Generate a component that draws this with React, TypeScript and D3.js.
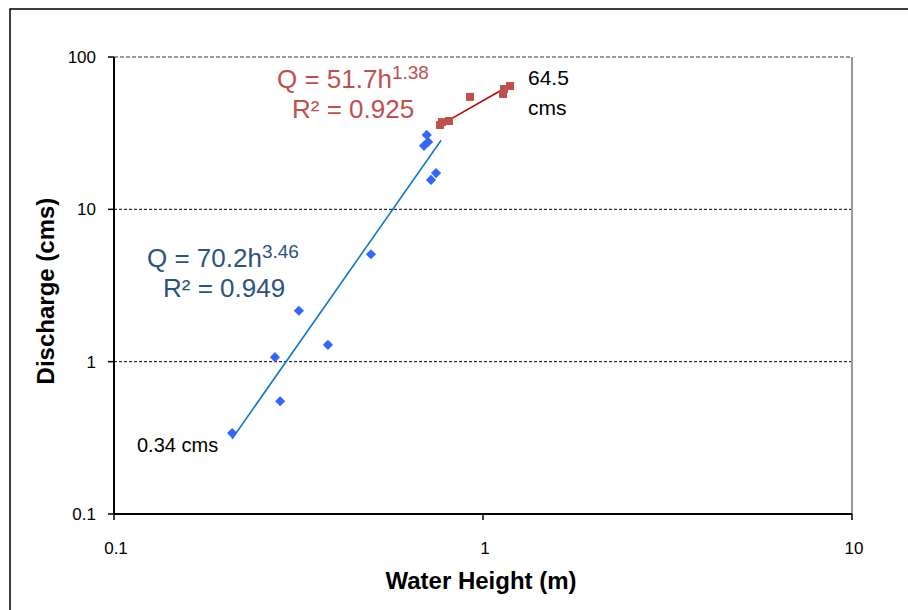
import { scaleLog, line } from 'd3';

const lowHeight = [0.209, 0.282, 0.273, 0.317, 0.38, 0.497, 0.704, 0.692, 0.71, 0.746, 0.723];
const lowDischarge = [0.34, 0.55, 1.07, 2.16, 1.29, 5.07, 30.8, 26.1, 27.7, 17.3, 15.6];

const highHeight = [0.765, 0.774, 0.809, 0.922, 1.133, 1.14, 1.184];
const highDischarge = [35.8, 37.4, 38.0, 54.7, 57.2, 61.7, 64.5];

// power fits Q = a * h^b, drawn over the span of each series
const lowFit = { a: 70.2, b: 3.46, r2: 0.949, from: 0.209, to: 0.77 };
const highFit = { a: 51.7, b: 1.38, r2: 0.925, from: 0.765, to: 1.184 };

const xTicks = [0.1, 1, 10];
const yTicks = [0.1, 1, 10, 100];

const W = 908;
const H = 610;
const left = 114;
const right = 852;
const top = 57;
const bottom = 514;

const font = '"Liberation Sans", Arial, sans-serif';

const App = () => {
  const x = scaleLog().domain([0.1, 10]).range([left, right]);
  const y = scaleLog().domain([0.1, 100]).range([bottom, top]);

  const fitPath = (f) => {
    const pts = [f.from, f.to].map((h) => [h, f.a * Math.pow(h, f.b)]);
    return line()
      .x((d) => x(d[0]))
      .y((d) => y(d[1]))(pts);
  };

  return (
    <svg
      width={W}
      height={H}
      style={{ position: 'absolute', left: 0, top: 0, background: '#fff' }}
      fontFamily={font}
    >
      <rect x={10} y={9} width={1000} height={1000} fill="#fff" stroke="#000" strokeWidth={1.5} />

      {/* gridlines */}
      {yTicks
        .filter((t) => t > 0.1 && t < 100)
        .map((t) => (
          <line key={t} x1={left} x2={right} y1={y(t)} y2={y(t)} stroke="#000" strokeWidth={1} strokeDasharray="3,2" />
        ))}
      <line x1={left} x2={right} y1={y(100)} y2={y(100)} stroke="#999" strokeWidth={2} strokeDasharray="4,2" />
      <line x1={right} x2={right} y1={top} y2={bottom} stroke="#999" strokeWidth={2} />

      {/* axes */}
      <line x1={left} x2={left} y1={top} y2={bottom + 1} stroke="#000" strokeWidth={2} />
      <line x1={left} x2={right} y1={bottom} y2={bottom} stroke="#000" strokeWidth={2} />
      {yTicks.map((t) => (
        <g key={t}>
          <line x1={left - 6} x2={left} y1={y(t)} y2={y(t)} stroke="#000" strokeWidth={1.5} />
          <text x={96} y={y(t) + 6} textAnchor="end" fontSize={17}>
            {t}
          </text>
        </g>
      ))}
      {xTicks.map((t) => (
        <g key={t}>
          <line x1={x(t)} x2={x(t)} y1={bottom} y2={bottom + 6} stroke="#000" strokeWidth={1.5} />
          <text x={x(t) + 2} y={554} textAnchor="middle" fontSize={17}>
            {t}
          </text>
        </g>
      ))}

      <text x={481} y={589} textAnchor="middle" fontSize={24} fontWeight="bold">
        Water Height (m)
      </text>
      <text transform="translate(54, 291) rotate(-90)" textAnchor="middle" fontSize={24} fontWeight="bold">
        Discharge (cms)
      </text>

      {/* trendlines */}
      <path d={fitPath(lowFit)} fill="none" stroke="#1177C8" strokeWidth={1.6} />
      <path d={fitPath(highFit)} fill="none" stroke="#C00000" strokeWidth={1.6} />

      {/* points */}
      {lowHeight.map((h, i) => (
        <rect
          key={'l' + i}
          x={-3.6}
          y={-3.6}
          width={7.2}
          height={7.2}
          fill="#3366FF"
          transform={`translate(${x(h)},${y(lowDischarge[i])}) rotate(45)`}
        />
      ))}
      {highHeight.map((h, i) => (
        <rect
          key={'h' + i}
          x={x(h) - 4}
          y={y(highDischarge[i]) - 4}
          width={8}
          height={8}
          fill="#C0504D"
        />
      ))}

      {/* annotations */}
      <text x={147} y={267} fontSize={26} fill="#2A5384">
        Q = {lowFit.a}h
        <tspan dy={-9} fontSize={19}>
          {lowFit.b}
        </tspan>
      </text>
      <text x={163} y={297} fontSize={26} fill="#2A5384">
        R² = {lowFit.r2}
      </text>
      <text x={277} y={88} fontSize={26} fill="#C0504D">
        Q = {highFit.a}h
        <tspan dy={-9} fontSize={19}>
          {highFit.b}
        </tspan>
      </text>
      <text x={292} y={118} fontSize={26} fill="#C0504D">
        R² = {highFit.r2}
      </text>

      <text x={528} y={85} fontSize={21}>
        {highDischarge[highDischarge.length - 1]}
      </text>
      <text x={528} y={115} fontSize={21}>
        cms
      </text>
      <text x={137} y={452} fontSize={20}>
        {lowDischarge[0]} cms
      </text>
    </svg>
  );
};

export default App;
